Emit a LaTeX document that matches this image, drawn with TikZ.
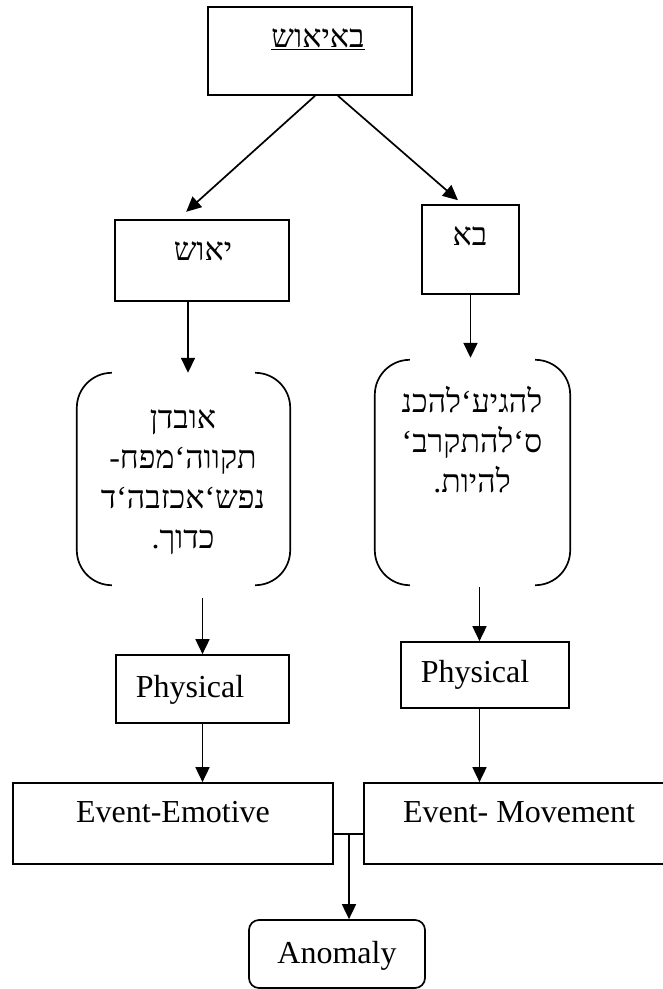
\documentclass[tikz,border=0pt]{standalone}
\usepackage{fontspec}
\setmainfont{Liberation Serif}
\newfontfamily\hebfont[Script=Hebrew]{Liberation Serif}
\TeXXeTstate=1
\usetikzlibrary{arrows.meta}
\newcommand\heb[1]{{\hebfont\beginR #1\endR}}

\tikzset{
  ln/.style={line width=1.7pt},
  frame/.style={ln, draw, inner sep=0pt, minimum width=#1},
  blank/.style={inner sep=0pt, minimum width=#1},
  lbl/.style={inner sep=0pt, font=\fontsize{32}{40}\selectfont},
  arr/.style={ln, -{Triangle[length=15pt, width=14pt]}},
}

\begin{document}
\begin{tikzpicture}[x=1pt, y=-1pt]
  \path[use as bounding box] (0,0) rectangle (663,989);
  \clip (0,0) rectangle (663,989);

  % boxes
  \node[frame=204pt, minimum height=88pt] (top) at (310,51) {};
  \node[frame=174pt, minimum height=81pt] (yaush) at (202,260.5) {};
  \node[frame=97pt, minimum height=89pt] (ba) at (470.5,249.5) {};
  \node[blank=213pt, minimum height=212pt] (lb) at (183.5,479) {};
  \node[blank=195pt, minimum height=225pt] (rb) at (472.5,472.5) {};
  \node[frame=173pt, minimum height=68pt] (phys1) at (202.5,689) {};
  \node[frame=168pt, minimum height=66pt] (phys2) at (485,675) {};
  \node[frame=320pt, minimum height=81pt] (emo) at (173,823.5) {};
  \node[frame=316pt, minimum height=81pt] (mov) at (522,823.5) {};
  \node[frame=176pt, minimum height=68pt, rounded corners=10pt] (anom) at (337,954) {};

  % bracket sides of the two word lists
  \foreach \b in {lb, rb} {
    \draw[ln, rounded corners=35pt] ([xshift=35pt]\b.north west) -- (\b.north west)
      -- (\b.south west) -- ([xshift=35pt]\b.south west);
    \draw[ln, rounded corners=35pt] ([xshift=-35pt]\b.north east) -- (\b.north east)
      -- (\b.south east) -- ([xshift=-35pt]\b.south east);
  }

  % labels
  \node[lbl, anchor=base] (toptxt) at (318,47) {\underline{\heb{באיאוש}}};
  \node[lbl, anchor=base] (yaushtxt) at (203,260) {\heb{יאוש}};
  \node[lbl, anchor=base] (batxt) at (470,245) {\heb{בא}};
  \node[lbl, align=center] (lbtxt) at (183,482)
    {\heb{אובדן}\\\heb{תקווה‘מפח-}\\\heb{נפש‘אכזבה‘ד}\\\heb{כדוך.}};
  \node[lbl, align=center] (rbtxt) at (472,440)
    {\heb{להגיע‘להכנ}\\\heb{ס‘להתקרב‘}\\\heb{להיות.}};
  \node[lbl, anchor=base] (p1txt) at (190,697) {Physical};
  \node[lbl, anchor=base] (p2txt) at (475,682) {Physical};
  \node[lbl, anchor=base] (emotxt) at (173,822) {Event-Emotive};
  \node[lbl, anchor=base] (movtxt) at (519,822) {Event- Movement};
  \node[lbl, anchor=base] (anomtxt) at (337,963) {Anomaly};

  % connectors
  \draw[arr, shorten >=11pt] ([xshift=5pt]top.south) -- ([xshift=-24pt]yaush.north);
  \draw[arr, shorten >=6pt] ([xshift=28pt]top.south) -- ([xshift=-8pt]ba.north);

  \coordinate (yout) at ([xshift=-14pt]yaush.south);
  \draw[arr] (yout) -- (yout |- lb.north);
  \draw[arr] (ba.south) -- ([yshift=2pt]ba.south |- rb.north);

  \coordinate (lbout) at ([yshift=-13pt]lb.south);
  \draw[arr] (lbout -| phys1.north) -- (phys1.north);
  \coordinate (p2in) at ([xshift=-5.5pt]phys2.north);
  \draw[arr] ([yshift=-2pt]p2in |- rb.south) -- (p2in);

  \draw[arr] (phys1.south) -- (phys1.south |- emo.north);
  \draw[arr] (p2in |- phys2.south) -- (p2in |- mov.north);

  \coordinate (j) at (349,834);
  \draw[ln] (emo.east |- j) -- (mov.west |- j);
  \draw[arr] (j) -- (j |- anom.north);
\end{tikzpicture}
\end{document}
